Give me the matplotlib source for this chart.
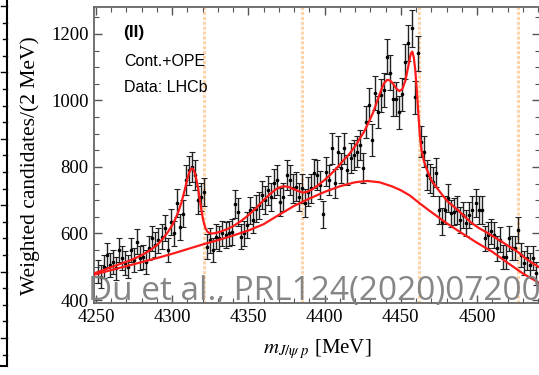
import numpy as np
import matplotlib
matplotlib.use("Agg")
import matplotlib.pyplot as plt
from matplotlib.lines import Line2D
from matplotlib.ticker import MultipleLocator

plt.rcParams["mathtext.fontset"] = "stix"

# bin centres (2 MeV bins) and weighted candidates
mass = np.arange(4251, 4540, 2)
counts = [485, 470, 500, 535, 505, 515, 495, 550, 526, 510,
          500, 550, 520, 575, 526, 530, 515, 556, 586, 566,
          580, 590, 617, 550, 635, 600, 693, 620, 660, 761,
          790, 800, 776, 700, 710, 725, 560, 580, 550, 590,
          585, 600, 595, 600, 605, 690, 665, 590, 600, 625,
          670, 640, 675, 685, 715, 700, 730, 710, 751, 761,
          695, 710, 776, 761, 736, 741, 711, 736, 691, 726,
          736, 781, 776, 746, 658, 786, 761, 856, 751, 846,
          796, 856, 791, 826, 836, 846, 866, 796, 936, 987,
          881, 1022, 965, 1016, 1032, 1132, 1084, 1004, 1004, 964,
          1019, 1117, 1172, 1217, 1010, 1142, 876, 846, 776, 766,
          756, 783, 671, 636, 671, 706, 661, 666, 671, 641,
          656, 631, 656, 671, 691, 671, 671, 586, 596, 606,
          596, 555, 581, 530, 530, 586, 556, 556, 610, 535,
          510, 526, 505, 526, 480]
errors = [35, 34, 35, 37, 36, 36, 35, 37, 36, 36,
          35, 37, 36, 38, 36, 36, 36, 37, 38, 38,
          38, 38, 39, 37, 40, 39, 42, 39, 41, 44,
          44, 45, 44, 42, 42, 43, 37, 38, 37, 38,
          38, 39, 39, 39, 39, 42, 41, 38, 39, 40,
          41, 40, 41, 41, 42, 42, 43, 42, 43, 44,
          42, 42, 44, 44, 43, 43, 42, 43, 42, 43,
          43, 44, 44, 43, 41, 44, 44, 46, 43, 46,
          45, 46, 44, 45, 46, 46, 46, 45, 48, 50,
          47, 51, 49, 50, 51, 53, 52, 50, 50, 49,
          50, 53, 54, 55, 50, 53, 47, 46, 44, 44,
          43, 44, 41, 40, 41, 42, 41, 41, 41, 40,
          40, 40, 40, 41, 42, 41, 41, 38, 39, 39,
          39, 37, 38, 36, 36, 38, 37, 37, 39, 37,
          36, 36, 36, 36, 35]

# full fit (Cont.+OPE)
fit_m = [4248.7, 4255, 4260, 4265, 4270, 4275, 4280, 4285, 4290, 4294,
         4297, 4300, 4302, 4304, 4306, 4308, 4310, 4311, 4312, 4313,
         4314, 4315, 4316, 4317, 4318, 4319, 4320, 4321, 4322, 4323,
         4324, 4326, 4328, 4332, 4336, 4340, 4345, 4350, 4355, 4360,
         4364, 4368, 4371, 4374, 4377, 4380, 4383, 4386, 4389, 4392,
         4396, 4400, 4404, 4408, 4412, 4416, 4420, 4423, 4426, 4429,
         4432, 4435, 4437, 4439, 4441, 4443, 4445, 4447, 4449, 4451,
         4453, 4455, 4456.5, 4457.5, 4458.5, 4459.5, 4460.5, 4461.5, 4462.5, 4463.5,
         4465, 4467, 4470, 4473, 4477, 4481, 4486, 4491, 4496, 4501,
         4506, 4511, 4516, 4521, 4526, 4528, 4531, 4535, 4541.3]
fit_v = [480, 490, 499, 507, 515, 524, 535, 548, 565, 585,
         603, 625, 643, 665, 692, 727, 765, 781, 792, 796,
         792, 780, 760, 735, 705, 675, 648, 628, 614, 606,
         602, 600, 601, 606, 613, 622, 637, 655, 676, 700,
         718, 733, 740, 742, 739, 733, 727, 723, 726, 733,
         746, 761, 778, 797, 818, 838, 862, 885, 907, 935,
         966, 1005, 1030, 1052, 1062, 1060, 1050, 1036, 1028, 1034,
         1060, 1105, 1140, 1147, 1130, 1090, 1030, 960, 895, 853,
         820, 793, 760, 741, 717, 695, 676, 655, 633, 617,
         604, 590, 576, 561, 547, 540, 528, 515, 497]

# background (continuum) curve
bg_m = [4248.7, 4260, 4270, 4280, 4290, 4300, 4310, 4320, 4330, 4340,
        4350, 4360, 4370, 4380, 4390, 4400, 4410, 4420, 4428, 4436,
        4444, 4450, 4456, 4462, 4468, 4474, 4480, 4490, 4500, 4510,
        4520, 4530, 4541.3]
bg_v = [476, 490, 502, 514, 526, 539, 553, 567, 580, 594,
        609, 628, 656, 683, 705, 725, 742, 754, 758, 754,
        742, 730, 714, 692, 671, 651, 631, 601, 572, 545,
        512, 480, 450]

thresholds = [4320.8, 4385.3, 4462.1, 4526.7]

W, H = 539, 375
fig = plt.figure(figsize=(W / 100, H / 100), dpi=100)
ax = fig.add_axes([94 / W, 1 - 303 / H, 446 / W, 296 / H])

for t in thresholds:
    ax.axvline(t, color="#fdd3a8", lw=2.2, ls=(0, (1, 0.6)), zorder=1)

ax.errorbar(mass, counts, yerr=errors, fmt="o", ms=1.6, color="black",
            ecolor="#222222", elinewidth=1.0, capsize=2, capthick=0.8, zorder=3)
ax.plot(bg_m, bg_v, color="#ff1a1a", lw=1.6, zorder=4)
ax.plot(fit_m, fit_v, color="#ff1a1a", lw=1.6, zorder=4)

ax.set_xlim(4248.7, 4541.3)
ax.set_ylim(391, 1281)
ax.xaxis.set_major_locator(MultipleLocator(50))
ax.xaxis.set_minor_locator(MultipleLocator(10))
ax.yaxis.set_major_locator(MultipleLocator(200))
ax.yaxis.set_minor_locator(MultipleLocator(50))
ax.tick_params(which="both", direction="in", top=True, right=True,
               color="#555555", labelsize=13.5, pad=4)
ax.tick_params(which="major", length=6, width=1)
ax.tick_params(which="minor", length=3.5, width=0.8)
for lab in ax.get_xticklabels() + ax.get_yticklabels():
    lab.set_family("Liberation Serif")
for s in ax.spines.values():
    s.set_color("#666666")
    s.set_linewidth(1.3)

ax.set_ylabel("Weighted candidates/(2 MeV)", family="Liberation Serif",
              fontsize=15.5)
ax.yaxis.set_label_coords(-0.122, 0.463)
ax.set_xlabel(r"$m_{J/\psi\ p}$ [MeV]", family="Liberation Serif",
              fontsize=15, labelpad=8)

ax.text(0.066, 0.913, "(II)", transform=ax.transAxes, family="Liberation Sans",
        fontsize=12.5, fontweight="bold", va="center", ha="left")
ax.text(0.068, 0.815, "Cont.+OPE", transform=ax.transAxes, family="Liberation Sans",
        fontsize=11.5, va="center", ha="left")
ax.text(0.068, 0.727, "Data: LHCb", transform=ax.transAxes, family="Liberation Sans",
        fontsize=11.5, va="center", ha="left")

# watermark
fig.text(88 / W, 1 - 300 / H, "Du et al., PRL124(2020)072001", family="Open Sans",
         fontsize=24, color="#808080", alpha=0.95, ha="left", va="baseline", zorder=10)

# edge of neighbouring panel at the far left
fig.add_artist(Line2D([7 / W, 7 / W], [1, 1 - 366 / H], color="black", lw=1.5))
fig.add_artist(Line2D([0, 7 / W], [1 - 366 / H, 1 - 366 / H], color="black", lw=1.5))
for k, yp in enumerate(np.arange(6, 366, 16.6)):
    ln = 6 if k % 4 == 0 else 4
    fig.add_artist(Line2D([(7 - ln) / W, 7 / W], [1 - yp / H, 1 - yp / H],
                          color="black", lw=1))

fig.savefig("out.png", dpi=100)
